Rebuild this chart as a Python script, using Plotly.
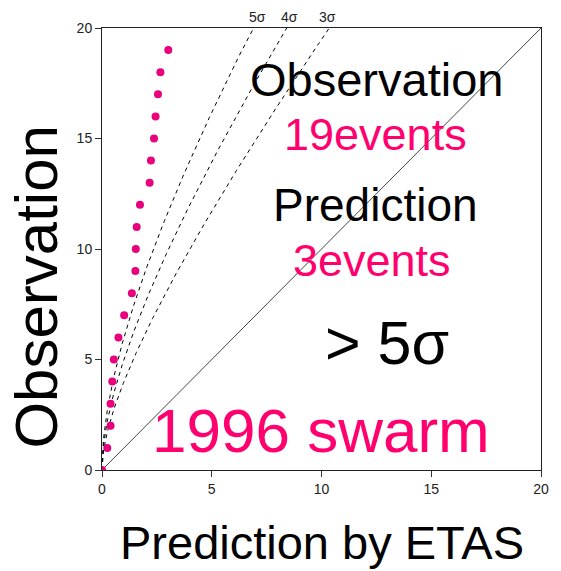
import numpy as np
import plotly.graph_objects as go

# Cumulative number of observed events vs. ETAS-predicted number
predicted = [0.0, 0.24, 0.39, 0.39, 0.47, 0.54, 0.75, 1.01, 1.36, 1.52,
             1.54, 1.58, 1.73, 2.17, 2.23, 2.37, 2.44, 2.55, 2.66, 3.02]
observed = list(range(0, 20))

# Poisson confidence bounds: N = lambda + k * sqrt(lambda)
sigma_levels = [5, 4, 3]
sigma_names = ["5σ", "4σ", "3σ"]
sigma_label_x = [7.1, 8.55, 10.29]

PINK_TEXT = "#ff006e"
PINK_DOT = "#e8007d"
FONT = "Liberation Sans, Arial, Helvetica, sans-serif"

fig = go.Figure()

lam = np.linspace(0, 12, 600)
for k in sigma_levels:
    fig.add_trace(go.Scatter(
        x=lam, y=lam + k * np.sqrt(lam), mode="lines",
        line=dict(color="black", width=1, dash="4px,4px"),
        hoverinfo="skip", showlegend=False))

# one-to-one line
fig.add_trace(go.Scatter(
    x=[0, 20], y=[0, 20], mode="lines",
    line=dict(color="#444444", width=1), showlegend=False))

fig.add_trace(go.Scatter(
    x=predicted, y=observed, mode="markers",
    marker=dict(color=PINK_DOT, size=8, line=dict(width=0)),
    cliponaxis=True, showlegend=False))

notes = [
    ("Observation", 12.49, 17.65, 47, "black"),
    ("19events", 12.47, 15.16, 45, PINK_TEXT),
    ("Prediction", 12.47, 11.99, 46, "black"),
    ("3events", 12.31, 9.5, 45, PINK_TEXT),
    ("> 5σ", 13.0, 5.75, 61, "black"),
    ("1996 swarm", 9.98, 1.81, 62, PINK_TEXT),
]
for text, x, y, size, color in notes:
    fig.add_annotation(x=x, y=y, text=text, showarrow=False,
                       xanchor="center", yanchor="middle",
                       font=dict(size=size, color=color, family=FONT))

for name, x in zip(sigma_names, sigma_label_x):
    fig.add_annotation(x=x, xref="x", y=1, yref="paper", yshift=11,
                       text=name, showarrow=False,
                       xanchor="center", yanchor="middle",
                       font=dict(size=14, color="#222222", family=FONT))

# axis titles placed as free text
fig.add_annotation(x=0.5, xref="paper", y=0, yref="paper", yshift=-72,
                   text="Prediction by ETAS", showarrow=False,
                   xanchor="center", yanchor="middle",
                   font=dict(size=47, color="black", family=FONT))
fig.add_annotation(x=0, xref="paper", y=8.3, yref="y", xshift=-65,
                   text="Observation", textangle=-90, showarrow=False,
                   xanchor="center", yanchor="middle",
                   font=dict(size=60, color="black", family=FONT))

axis_common = dict(
    range=[0, 20], tickvals=[0, 5, 10, 15, 20],
    showgrid=False, zeroline=False,
    showline=True, linecolor="#222222", linewidth=1, mirror=True,
    ticks="outside", ticklen=6, tickcolor="#333333", tickwidth=1,
    tickfont=dict(size=14, color="#222222", family=FONT),
)

fig.update_layout(
    width=561, height=571,
    margin=dict(l=102, r=17, t=28, b=101),
    paper_bgcolor="white", plot_bgcolor="white",
    font=dict(family=FONT),
    xaxis=axis_common,
    yaxis=axis_common,
)

fig.write_html("out.html")
